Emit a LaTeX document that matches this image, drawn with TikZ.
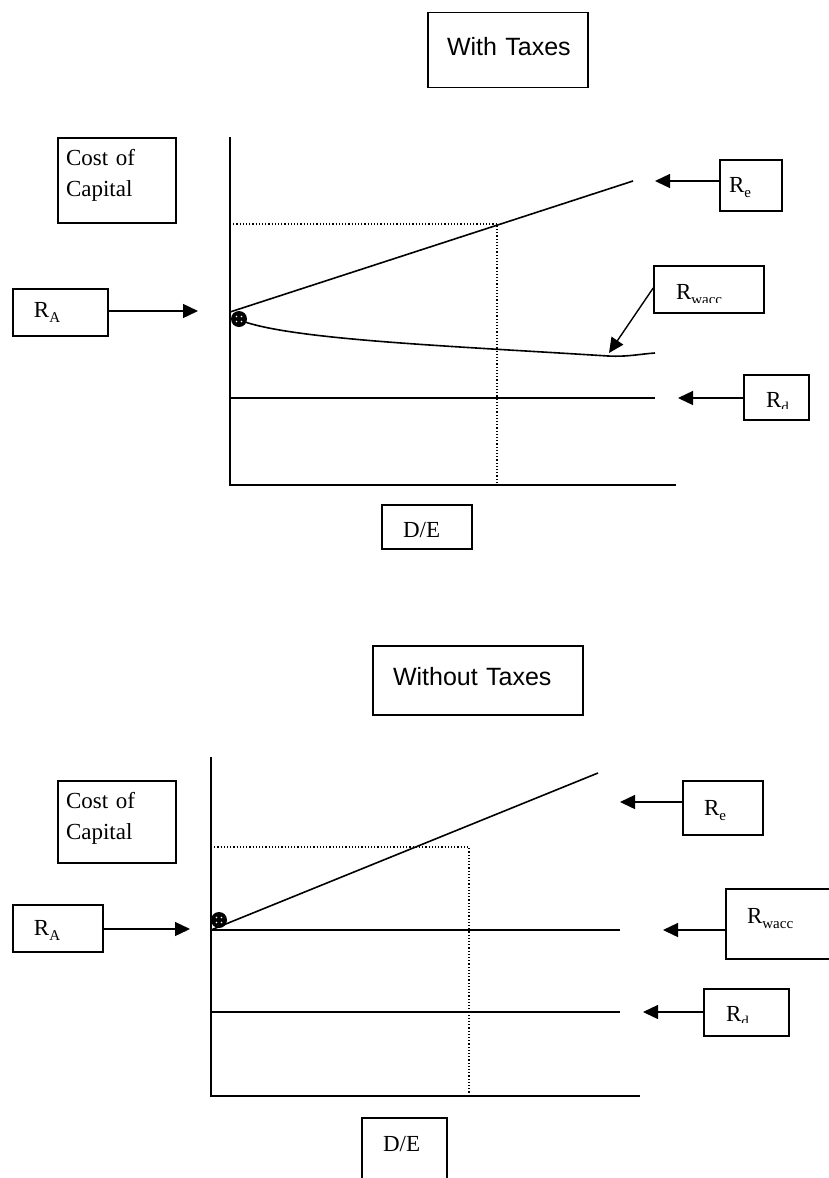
\documentclass[tikz,border=0pt]{standalone}
\usepackage{fontspec}
\setmainfont{Liberation Serif}
\newfontfamily\headfont{Liberation Sans}
\usetikzlibrary{arrows.meta,calc}
% lowered, smaller subscript for the rate labels
\newcommand\rsub[1]{\raisebox{-0.22em}{\fontsize{15}{15}\selectfont #1}}
\begin{document}
\begin{tikzpicture}[x=1pt,y=-1pt,
  frame/.style={draw, line width=1.6pt},
  lbl/.style={frame, font=\fontsize{23}{31}\selectfont, inner xsep=21pt, inner ysep=0pt,
              align=left, text height=15pt, text depth=5pt},
  title/.style={frame, font=\headfont\fontsize{25}{30}\selectfont, inner ysep=0pt,
                align=left, text height=18pt, text depth=8pt},
  axis/.style={line width=1.8pt},
  curve/.style={line width=1.6pt},
  guide/.style={line width=1.2pt, dotted},
  pointer/.style={line width=1.4pt, -{Triangle[length=15pt,width=14pt]}},
  marker/.style={circle, fill=black, inner sep=0pt, minimum size=16pt}
]
\useasboundingbox (0,0) rectangle (828,1178);

% ---------------- With taxes ----------------
\node[title, inner xsep=19pt, text width=122pt, minimum height=75pt] (t1) at (508,50) {\mbox{With Taxes}};
\node[lbl, anchor=north, inner xsep=8pt, text width=102pt, text height=27.5pt, text depth=57.5pt]
  (c1) at (117,137) {Cost of\\Capital};
\node[lbl, text width=53pt, minimum height=47pt] (ra1) at (60.5,312.5) {R\rsub{A}};
\node[lbl, inner xsep=9pt, text width=44pt, minimum height=51pt, text height=16pt, text depth=3pt]
  (re1) at (751,185.5) {R\rsub{e}};
\begin{scope}
  \clip (640,250) rectangle (800,302);
  \node[lbl, draw=none, text width=66pt, minimum height=45pt, text height=22pt, text depth=3pt]
    (rw1) at (709,289.5) {R\rsub{wacc}};
\end{scope}
\draw[frame] (rw1.south west) rectangle (rw1.north east);
\begin{scope}
  \clip (730,360) rectangle (820,408.5);
  \node[lbl, draw=none, text width=21pt, minimum height=43pt, text height=22pt, text depth=3pt]
    (rd1) at (776.5,397.5) {R\rsub{d}};
\end{scope}
\draw[frame] (rd1.south west) rectangle (rd1.north east);
\node[lbl, text width=48pt, minimum height=44pt, text height=21pt, text depth=0pt] (de1) at (427,527) {D/E};

\coordinate (o1) at (230,485);
\coordinate (y1) at (230,137);
\coordinate (x1) at (676,485);
\draw[axis] (y1) -- (o1) -- (x1);

\coordinate (g1) at (230,224);
\coordinate (h1) at (497,224);
\coordinate (v1) at (497,485);
\draw[guide] (g1) -- (h1) -- (v1);

\coordinate (s1) at (230,312);
\coordinate (e1) at (633,181);
\draw[curve] (s1) -- (e1);

\coordinate (w1s) at (245,322);
\coordinate (w1m) at (608,356);
\coordinate (w1e) at (655,353);
\draw[curve] (w1s) .. controls (300,340) and (450,346) .. (w1m)
             .. controls (628,357) and (640,354) .. (w1e);

\coordinate (d1s) at (230,398);
\coordinate (d1e) at (655,398);
\draw[curve] (d1s) -- (d1e);

\node[marker] (m1) at (239,319) {};
\foreach \dx/\dy in {-2.5/-2.5,2.5/-2.5,-2.5/2.5,2.5/2.5}
  \fill[white] ($(m1)+(\dx,\dy)$) circle (0.9pt);

\coordinate (ra1tip) at (198,311);
\draw[pointer] (ra1.east |- ra1tip) -- (ra1tip);
\coordinate (re1tip) at (655,181);
\draw[pointer] (re1.west |- re1tip) -- (re1tip);
\coordinate (rw1tip) at (609,353);
\draw[pointer] ($(rw1.west)+(-1,-1.5)$) -- (rw1tip);
\coordinate (rd1tip) at (678,398);
\draw[pointer] (rd1.west |- rd1tip) -- (rd1tip);

% ---------------- Without taxes ----------------
\node[title, inner xsep=20pt, text width=170pt, minimum height=69pt] (t2) at (478,680.5) {\mbox{Without Taxes}};
\node[lbl, anchor=north, inner xsep=8pt, text width=102pt, text height=27.5pt, text depth=54.5pt]
  (c2) at (117,780) {Cost of\\Capital};
\node[lbl, text width=48pt, minimum height=47pt, text height=16pt, text depth=3pt] (ra2) at (58,928.5) {R\rsub{A}};
\node[lbl, text width=38pt, minimum height=54pt, text height=17pt, text depth=3pt] (re2) at (723,808) {R\rsub{e}};
\node[lbl, anchor=north, text width=82pt, text height=35pt, text depth=35pt] (rw2) at (788,888) {R\rsub{wacc}};
\begin{scope}
  \clip (690,980) rectangle (800,1022.5);
  \node[lbl, draw=none, text width=41pt, minimum height=45pt, text height=20pt, text depth=3pt]
    (rd2) at (746.5,1012.5) {R\rsub{d}};
\end{scope}
\draw[frame] (rd2.south west) rectangle (rd2.north east);
\node[lbl, anchor=north, text width=43pt, text height=33.5pt, text depth=40pt] (de2) at (404.5,1117) {D/E};

\coordinate (o2) at (211,1096);
\coordinate (y2) at (211,757);
\coordinate (x2) at (640,1096);
\draw[axis] (y2) -- (o2) -- (x2);

\coordinate (g2) at (211,847);
\coordinate (h2) at (469,847);
\coordinate (v2) at (469,1096);
\draw[guide] (g2) -- (h2) -- (v2);

\coordinate (s2) at (211,930);
\coordinate (e2) at (598,773);
\draw[curve] (s2) -- (e2);

\coordinate (w2e) at (620,930);
\draw[curve] (s2) -- (w2e);

\coordinate (d2s) at (211,1012);
\coordinate (d2e) at (620,1012);
\draw[curve] (d2s) -- (d2e);

\node[marker] (m2) at (219,920) {};
\foreach \dx/\dy in {-2.5/-2.5,2.5/-2.5,-2.5/2.5,2.5/2.5}
  \fill[white] ($(m2)+(\dx,\dy)$) circle (0.9pt);

\coordinate (ra2tip) at (190,929);
\draw[pointer] (ra2.east |- ra2tip) -- (ra2tip);
\coordinate (re2tip) at (620,802);
\draw[pointer] (re2.west |- re2tip) -- (re2tip);
\coordinate (rw2tip) at (663,930);
\draw[pointer] (rw2.west |- rw2tip) -- (rw2tip);
\coordinate (rd2tip) at (643,1012);
\draw[pointer] (rd2.west |- rd2tip) -- (rd2tip);
\end{tikzpicture}
\end{document}
